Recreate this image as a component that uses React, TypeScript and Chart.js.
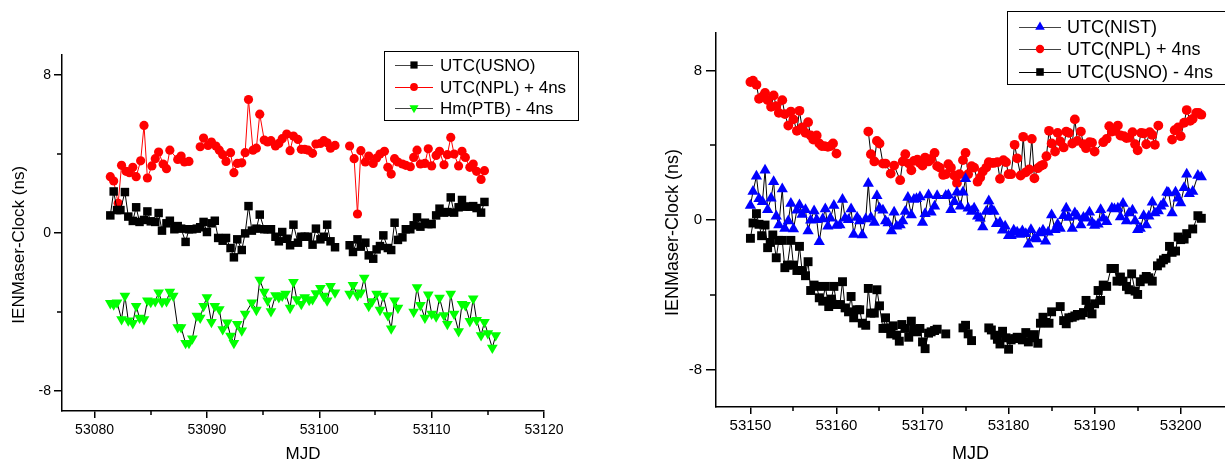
import React, { useEffect, useRef } from 'react';
import { Chart, registerables } from 'chart.js';
import { drawPoint } from 'chart.js/helpers';

Chart.register(...registerables);

// ---------------- Left panel ----------------
const leftXTicks = [53080, 53090, 53100, 53110, 53120];
const leftXMinorTicks = [53085, 53095, 53105, 53115];
const leftYTicks = [-8, 0, 8];
const leftYMinorTicks = [-4, 4];

const leftUsnoMjd = [53081.4, 53081.7, 53082.0, 53082.3, 53082.7, 53083.0, 53083.4, 53083.7, 53084.0, 53084.4, 53084.7, 53085.0, 53085.4, 53085.7, 53086.0, 53086.4, 53086.7, 53087.1, 53087.4, 53087.7, 53088.1, 53088.4, 53088.7, 53089.1, 53089.4, 53089.7, 53090.0, 53090.4, 53090.7, 53091.0, 53091.4, 53091.7, 53092.1, 53092.4, 53092.7, 53093.1, 53093.4, 53093.7, 53094.0, 53094.4, 53094.7, 53095.1, 53095.4, 53095.7, 53096.1, 53096.4, 53096.7, 53097.1, 53097.4, 53097.7, 53098.1, 53098.4, 53098.7, 53099.0, 53099.4, 53099.7, 53100.1, 53100.4, 53100.7, 53101.0, 53101.4, 53102.0, 53102.7, 53103.0, 53103.4, 53103.7, 53104.1, 53104.4, 53104.8, 53105.1, 53105.4, 53105.7, 53106.1, 53106.4, 53106.7, 53107.0, 53107.4, 53107.7, 53108.1, 53108.4, 53108.7, 53109.0, 53109.4, 53109.7, 53110.0, 53110.4, 53110.7, 53111.1, 53111.4, 53111.7, 53112.0, 53112.4, 53112.7, 53113.0, 53113.4, 53113.7, 53114.0, 53114.4, 53114.7];
const leftUsnoNs = [0.89, 2.1, 1.16, 1.16, 2.07, 0.83, 0.61, 1.30, 0.56, 0.66, 1.09, 0.59, 0.56, 1.01, 0.12, 0.49, 0.62, 0.19, 0.35, 0.22, -0.45, 0.19, 0.19, 0.22, 0.29, 0.56, 0.05, 0.49, 0.62, -0.25, -0.39, -0.25, -0.76, -1.23, -0.32, -0.86, -0.02, 1.36, 0.12, 0.22, 0.93, 0.19, 0.19, 0.19, -0.19, -0.42, 0.05, -0.29, -0.62, 0.42, -0.49, -0.19, -0.19, -0.19, -0.59, 0.22, -0.32, -0.19, 0.42, -0.42, -0.72, null, -0.62, -0.96, -0.32, -0.69, -0.49, -1.13, -1.30, -0.83, -0.66, -0.12, -0.76, -0.86, 0.52, -0.35, -0.22, 0.19, 0.19, 0.39, 0.79, 0.32, 0.52, 0.45, 0.45, 0.89, 1.23, 1.03, 1.06, 1.80, 1.03, 1.30, 1.67, 1.33, 1.33, 1.36, 1.26, 1.03, 1.57];

const leftNplMjd = [53081.4, 53081.7, 53082.1, 53082.4, 53082.8, 53083.1, 53083.4, 53083.7, 53084.1, 53084.4, 53084.7, 53085.1, 53085.4, 53085.7, 53086.1, 53086.4, 53086.7, 53087.4, 53087.7, 53088.0, 53088.4, 53088.9, 53089.4, 53089.7, 53090.1, 53090.4, 53090.8, 53091.1, 53091.4, 53091.7, 53092.1, 53092.4, 53092.7, 53093.1, 53093.4, 53093.7, 53094.1, 53094.4, 53094.7, 53095.1, 53095.4, 53095.7, 53096.1, 53096.4, 53096.7, 53097.1, 53097.4, 53097.7, 53098.1, 53098.4, 53098.7, 53099.0, 53099.4, 53099.7, 53100.1, 53100.4, 53100.7, 53101.0, 53101.4, 53102.0, 53102.7, 53103.1, 53103.4, 53103.7, 53104.1, 53104.4, 53104.8, 53105.1, 53105.4, 53105.8, 53106.1, 53106.4, 53106.7, 53107.0, 53107.4, 53107.7, 53108.1, 53108.4, 53108.7, 53109.0, 53109.4, 53109.7, 53110.0, 53110.4, 53110.7, 53111.1, 53111.4, 53111.7, 53112.0, 53112.4, 53112.7, 53113.0, 53113.4, 53113.7, 53114.0, 53114.4, 53114.7];
const leftNplNs = [2.85, 2.63, 1.50, 3.42, 3.12, 3.05, 3.32, 2.85, 3.65, 5.44, 2.78, 3.39, 3.76, 4.09, 3.49, 3.25, 4.19, 3.72, 3.89, 3.59, 3.62, null, 4.36, 4.80, 4.43, 4.60, 4.40, 4.19, 3.96, 3.62, 4.06, 3.05, 3.52, 3.55, 4.06, 6.75, 4.19, 4.29, 6.01, 4.70, 4.60, 4.67, 4.40, 4.53, 4.77, 5.00, 4.16, 4.90, 4.73, 4.23, 4.23, 4.19, 4.03, 4.50, 4.53, 4.67, 4.56, 4.29, 4.43, null, 4.40, 3.76, 0.96, 4.16, 3.59, 3.89, 3.52, 3.79, 3.99, 4.13, 3.32, 2.98, 3.76, 3.59, 3.49, 3.42, 3.35, 3.82, 4.19, 3.49, 3.52, 4.26, 3.39, 3.92, 4.13, 3.45, 3.96, 4.83, 3.99, 3.39, 4.13, 3.82, 3.32, 3.49, 3.12, 2.71, 3.15];

const leftPtbMjd = [53081.4, 53081.7, 53082.0, 53082.4, 53082.7, 53083.0, 53083.4, 53083.7, 53084.0, 53084.4, 53084.7, 53085.0, 53085.4, 53085.7, 53086.0, 53086.4, 53086.7, 53087.0, 53087.4, 53087.7, 53088.1, 53088.4, 53088.7, 53089.1, 53089.4, 53089.7, 53090.0, 53090.4, 53090.7, 53091.1, 53091.4, 53091.8, 53092.1, 53092.4, 53092.7, 53093.1, 53093.4, 53094.0, 53094.4, 53094.7, 53095.1, 53095.4, 53095.7, 53096.1, 53096.4, 53096.7, 53097.0, 53097.4, 53097.7, 53098.0, 53098.4, 53098.7, 53099.1, 53099.4, 53099.7, 53100.1, 53100.4, 53100.7, 53101.0, 53101.4, 53102.0, 53102.7, 53103.0, 53103.4, 53103.7, 53104.0, 53104.4, 53104.7, 53105.1, 53105.4, 53105.7, 53106.1, 53106.4, 53106.7, 53107.0, 53107.7, 53108.4, 53108.7, 53109.0, 53109.4, 53109.7, 53110.0, 53110.4, 53110.7, 53111.1, 53111.4, 53111.7, 53112.0, 53112.4, 53112.7, 53113.0, 53113.4, 53113.7, 53114.0, 53114.4, 53114.7, 53115.0, 53115.4, 53115.7];
const leftPtbNs = [-3.55, -3.62, -3.52, -4.36, -3.18, -4.43, -4.56, -3.69, -4.29, -4.36, -3.42, -3.49, -3.45, -3.01, -3.49, -3.45, -2.98, -3.18, -4.77, -4.77, -5.57, -5.57, -5.34, -4.19, -4.29, -3.69, -3.25, -4.50, -3.69, -3.86, -4.87, -4.53, -5.20, -5.57, -4.60, -4.93, -4.09, -3.52, -3.89, -2.37, -2.98, -3.42, -3.96, -3.15, -3.25, -3.18, -3.08, -3.79, -2.48, -3.35, -3.59, -3.25, -3.39, -3.35, -3.05, -2.78, -3.18, -3.42, -2.68, -3.01, null, -3.08, -2.64, -3.15, -3.01, -2.27, -3.69, -3.45, -3.08, -3.89, -3.18, -4.16, -4.83, -3.42, -3.79, null, -3.99, -2.75, -3.65, -4.29, -3.12, -4.09, -4.23, -3.28, -4.16, -4.60, -3.08, -4.09, -4.97, -3.59, -3.65, -4.46, -3.32, -4.40, -5.17, -4.50, -5.07, -5.81, -5.17];

// ---------------- Right panel ----------------
const rightXTicks = [53150, 53160, 53170, 53180, 53190, 53200];
const rightXMinorTicks = [53155, 53165, 53175, 53185, 53195];
const rightYTicks = [-8, 0, 8];
const rightYMinorTicks = [-4, 4];

const rightNistMjd = [53150.0, 53150.3, 53150.7, 53151.0, 53151.4, 53151.7, 53152.0, 53152.4, 53152.7, 53153.0, 53153.3, 53153.7, 53154.0, 53154.4, 53154.7, 53155.0, 53155.4, 53155.7, 53156.0, 53156.4, 53156.7, 53157.0, 53157.4, 53157.7, 53158.0, 53158.4, 53158.7, 53159.0, 53159.3, 53159.7, 53160.0, 53160.4, 53160.7, 53161.0, 53161.4, 53161.7, 53162.0, 53162.4, 53162.7, 53163.0, 53163.4, 53163.7, 53164.0, 53164.4, 53164.7, 53165.0, 53165.4, 53165.7, 53166.0, 53166.4, 53166.7, 53167.0, 53167.4, 53167.7, 53168.0, 53168.3, 53168.7, 53169.0, 53169.3, 53169.7, 53170.0, 53170.3, 53170.7, 53171.0, 53171.4, 53171.7, 53172.7, 53173.0, 53173.3, 53173.7, 53174.0, 53174.4, 53174.7, 53175.0, 53175.3, 53175.7, 53176.0, 53176.4, 53176.7, 53177.0, 53177.4, 53177.7, 53178.0, 53178.3, 53178.6, 53179.0, 53179.3, 53179.6, 53180.0, 53180.3, 53180.6, 53181.0, 53181.3, 53181.6, 53182.0, 53182.3, 53182.6, 53183.0, 53183.3, 53183.6, 53184.0, 53184.3, 53184.6, 53185.0, 53185.4, 53185.7, 53186.0, 53186.4, 53186.7, 53187.0, 53187.4, 53187.7, 53188.0, 53188.4, 53188.7, 53189.0, 53189.4, 53189.7, 53190.0, 53190.4, 53190.7, 53191.0, 53191.4, 53192.0, 53192.3, 53192.7, 53193.0, 53193.3, 53193.7, 53194.0, 53194.4, 53194.7, 53195.0, 53195.3, 53195.7, 53196.0, 53196.3, 53196.7, 53197.0, 53197.4, 53197.7, 53198.0, 53198.4, 53198.6, 53199.0, 53199.4, 53199.7, 53200.0, 53200.4, 53200.7, 53201.0, 53201.4, 53202.0, 53202.4];
const rightNistNs = [0.77, 1.52, 2.34, 1.13, 0.98, 2.66, 0.55, 1.16, 2.05, 0.20, -0.27, 1.66, -0.45, -0.05, 0.88, -0.48, 0.52, 0.80, 0.30, 0.55, -0.59, -0.02, 0.48, 0.02, -1.16, 0.05, 0.59, -0.34, 0.09, 0.77, -0.30, -0.27, 1.09, 0.09, 0.02, 0.59, -0.77, 0.13, -0.05, -0.80, 0.05, 1.95, 0.13, -0.13, 1.30, 0.63, 0.52, -0.05, -0.16, -0.59, 0.41, -0.34, -0.27, -0.05, 0.45, 1.20, 0.27, 1.09, 1.13, 1.23, -0.13, 0.34, 1.34, 0.41, 0.73, 1.30, 1.30, 1.34, 0.55, 0.98, 1.48, 0.73, 1.48, 2.20, 0.63, 0.45, 0.63, 0.20, 0.09, -0.38, 0.45, 1.02, 0.59, 0.45, -0.20, -0.13, -0.55, -0.34, -0.84, -0.84, -0.55, -0.66, -0.77, -0.59, -0.73, -1.30, -0.52, -0.98, -1.02, -0.70, -0.55, -1.13, -0.66, 0.27, -0.52, -0.23, -0.45, 0.23, 0.63, 0.13, -0.45, 0.38, 0.20, -0.27, 0.13, 0.09, 0.41, -0.13, -0.30, -0.23, 0.55, 0.09, -0.09, 0.63, 0.59, 0.63, 0.16, 0.88, -0.05, 0.38, 0.52, -0.05, -0.52, -0.45, 0.23, -0.27, 0.20, 0.95, 0.38, 0.48, 0.73, 0.88, 1.48, 1.45, 0.38, 1.48, 1.16, 0.91, 1.73, 2.45, 1.41, 1.52, 2.38, 2.30];

const rightNplMjd = [53150.0, 53150.3, 53150.7, 53151.0, 53151.4, 53151.7, 53152.0, 53152.4, 53152.7, 53153.0, 53153.3, 53153.7, 53154.0, 53154.4, 53154.7, 53155.0, 53155.4, 53155.7, 53156.0, 53156.4, 53156.7, 53157.0, 53157.3, 53157.7, 53158.0, 53158.3, 53158.6, 53159.0, 53159.3, 53159.6, 53160.0, 53162.0, 53163.7, 53164.0, 53164.4, 53164.7, 53165.0, 53165.4, 53165.7, 53166.3, 53166.7, 53167.4, 53167.7, 53168.0, 53168.4, 53168.7, 53169.0, 53169.4, 53169.7, 53170.0, 53170.3, 53170.7, 53171.0, 53171.4, 53171.7, 53172.0, 53172.4, 53172.7, 53173.0, 53173.3, 53173.7, 53174.0, 53174.3, 53174.7, 53175.0, 53175.3, 53175.7, 53176.0, 53176.4, 53176.7, 53177.0, 53177.4, 53177.7, 53178.0, 53178.3, 53178.7, 53179.0, 53179.4, 53179.7, 53180.0, 53180.3, 53180.7, 53181.0, 53181.4, 53181.7, 53182.0, 53182.4, 53182.7, 53183.0, 53183.4, 53183.7, 53184.0, 53184.4, 53184.7, 53185.0, 53185.4, 53185.7, 53186.0, 53186.4, 53186.7, 53187.0, 53187.4, 53187.7, 53188.0, 53188.4, 53188.7, 53189.0, 53189.4, 53189.7, 53190.0, 53191.0, 53191.4, 53191.7, 53192.0, 53192.4, 53192.7, 53193.0, 53193.4, 53193.7, 53194.0, 53194.4, 53194.7, 53195.0, 53195.4, 53195.7, 53196.0, 53196.4, 53196.7, 53197.0, 53197.4, 53198.2, 53199.0, 53199.3, 53199.7, 53200.0, 53200.4, 53200.7, 53201.1, 53201.4, 53201.8, 53202.1, 53202.4];
const rightNplNs = [7.38, 7.45, 7.23, 6.48, 6.59, 6.80, 6.41, 6.05, 6.66, 6.09, 5.73, 6.41, 5.66, 5.05, 5.80, 5.38, 4.77, 5.84, 4.95, 4.66, 5.23, 4.52, 4.30, 4.52, 4.09, 3.95, 3.95, 3.91, 3.95, 4.09, 3.55, null, 4.73, 3.52, 3.13, 4.23, 4.09, 3.02, 3.02, 2.48, 2.91, 2.13, 3.13, 3.52, 3.02, 2.66, 3.16, 3.23, 3.05, 2.91, 3.34, 3.13, 3.27, 3.59, 2.88, 2.80, 2.41, 2.45, 2.98, 2.80, 2.38, 1.98, 2.45, 3.20, 3.59, 2.45, 2.88, 2.80, 2.05, 2.27, 2.59, 2.80, 3.09, 3.05, 3.05, 3.09, 2.20, 3.20, 3.09, 2.45, 2.45, 4.02, 3.30, 2.38, 4.45, 2.55, 2.70, 4.34, 2.23, 2.77, 2.88, 2.95, 3.41, 4.77, 4.09, 3.66, 4.66, 4.20, 3.88, 4.73, 4.66, 4.09, 5.38, 4.23, 4.73, 4.05, 3.84, 4.16, 4.13, 3.66, 4.16, 4.34, 5.02, 4.73, 4.77, 5.05, 4.52, 4.48, 4.38, 4.41, 4.70, 4.05, 3.73, 4.66, 4.63, 4.05, 4.70, 4.55, 4.02, 5.05, null, 4.30, 4.80, 4.95, 4.48, 5.20, 5.88, 5.30, 5.41, 5.73, 5.73, 5.63];

const rightUsnoMjd = [53150.0, 53150.3, 53150.7, 53151.0, 53151.3, 53151.7, 53152.0, 53152.3, 53152.6, 53153.0, 53153.3, 53153.7, 53154.0, 53154.3, 53154.7, 53155.0, 53155.4, 53155.7, 53156.0, 53156.4, 53156.7, 53157.0, 53157.4, 53157.7, 53158.0, 53158.4, 53158.7, 53159.1, 53159.4, 53159.7, 53160.0, 53160.4, 53160.7, 53161.0, 53161.4, 53161.7, 53162.0, 53162.4, 53162.7, 53163.0, 53163.4, 53163.7, 53164.0, 53164.4, 53164.7, 53165.0, 53165.4, 53165.7, 53166.0, 53166.3, 53166.6, 53167.0, 53167.3, 53167.6, 53168.0, 53168.4, 53168.7, 53169.0, 53169.4, 53169.7, 53170.0, 53170.3, 53170.7, 53171.0, 53171.4, 53171.7, 53172.2, 53172.7, 53173.7, 53174.7, 53175.0, 53175.3, 53175.7, 53176.7, 53177.7, 53178.0, 53178.4, 53178.7, 53179.0, 53179.3, 53179.7, 53180.0, 53180.3, 53180.7, 53181.0, 53181.3, 53181.6, 53182.0, 53182.3, 53182.7, 53183.0, 53183.4, 53183.7, 53184.0, 53184.3, 53184.7, 53185.0, 53186.0, 53186.4, 53186.7, 53187.0, 53187.4, 53187.7, 53188.0, 53188.4, 53188.7, 53189.0, 53189.4, 53189.7, 53190.0, 53190.4, 53190.7, 53191.0, 53191.4, 53191.9, 53192.3, 53192.6, 53193.0, 53193.3, 53193.7, 53194.0, 53194.3, 53194.7, 53195.0, 53195.3, 53195.7, 53196.0, 53196.3, 53196.7, 53197.3, 53197.7, 53198.0, 53198.3, 53198.7, 53199.0, 53199.4, 53199.7, 53200.0, 53200.4, 53200.7, 53201.4, 53202.0, 53202.4];
const rightUsnoNs = [-0.98, -0.16, 0.34, -0.23, -0.84, -0.27, -1.48, -1.20, -0.80, -2.02, -1.09, -1.09, -2.55, -2.41, -1.09, -2.41, -2.70, -1.41, -2.70, -2.98, -2.23, -3.77, -3.48, -3.55, -4.16, -4.34, -3.55, -4.63, -4.23, -3.55, -4.52, -4.52, -3.30, -4.70, -4.91, -4.09, -5.23, -4.80, -4.80, -5.52, -5.63, -3.66, -4.98, -4.98, -3.73, -4.59, -5.80, -5.23, -5.77, -6.09, -5.66, -6.16, -6.48, -5.59, -5.80, -6.27, -5.41, -5.84, -5.98, -5.80, -6.52, -6.88, -6.05, -5.98, -5.91, -5.84, null, -6.09, null, -5.77, -5.63, -6.09, -6.45, null, -5.77, -5.88, -6.16, -6.38, -6.63, -5.95, -6.30, -6.91, -6.41, -6.34, -6.27, -6.30, -6.41, -6.02, -6.52, -6.30, -6.13, -6.59, -5.52, -5.20, -5.48, -5.52, -4.91, -4.63, -5.38, -5.55, -5.23, -5.20, -5.13, -5.05, -5.09, -4.95, -4.30, -4.66, -5.02, -4.48, -3.77, -4.30, -3.48, -3.55, -2.59, -2.59, -3.27, -3.05, -3.27, -3.55, -3.73, -2.88, -3.80, -3.98, -3.30, -3.16, -3.02, -3.09, -3.27, -2.45, -2.30, -2.13, -2.05, -1.41, -1.73, -1.66, -0.91, -1.05, -1.02, -0.73, -0.48, 0.23, 0.09];

// ---------------- helpers ----------------
const FONT = "'Liberation Sans', Arial, sans-serif";

const toPoints = (xs: number[], ys: (number | null)[]) => xs.map((x, i) => ({ x, y: ys[i] }));

type LegendCfg = {
  box: [number, number, number, number];
  rows: number[];
  lineX0: number;
  lineX1: number;
  markerX: number;
  textX: number;
  fontSize: number;
  lineColors: string[];
};

function makeDecorPlugin(legend: LegendCfg, xMinor: number[], yMinor: number[], minorX: number, minorY: number) {
  return {
    id: 'decor',
    afterDraw(chart: any) {
      const ctx = chart.ctx as CanvasRenderingContext2D;
      const xs = chart.scales.x;
      const ys = chart.scales.y;
      ctx.save();
      // minor tick marks
      ctx.strokeStyle = '#000';
      ctx.lineWidth = 1.5;
      ctx.beginPath();
      xMinor.forEach((v) => {
        const px = Math.round(xs.getPixelForValue(v));
        ctx.moveTo(px, xs.top);
        ctx.lineTo(px, xs.top + minorX);
      });
      yMinor.forEach((v) => {
        const py = Math.round(ys.getPixelForValue(v));
        ctx.moveTo(ys.right - minorY, py);
        ctx.lineTo(ys.right, py);
      });
      ctx.stroke();

      // legend
      const [bx, by, bw, bh] = legend.box;
      ctx.fillStyle = '#fff';
      ctx.fillRect(bx, by, bw, bh);
      ctx.strokeStyle = '#000';
      ctx.lineWidth = 1;
      ctx.strokeRect(bx + 0.5, by + 0.5, bw, bh);
      ctx.font = `${legend.fontSize}px ${FONT}`;
      ctx.textBaseline = 'middle';
      ctx.textAlign = 'left';
      chart.data.datasets.forEach((ds: any, i: number) => {
        const yy = legend.rows[i];
        ctx.strokeStyle = legend.lineColors[i];
        ctx.lineWidth = 1;
        ctx.beginPath();
        ctx.moveTo(legend.lineX0, yy + 0.5);
        ctx.lineTo(legend.lineX1, yy + 0.5);
        ctx.stroke();
        ctx.fillStyle = ds.pointBackgroundColor;
        drawPoint(ctx, { pointStyle: ds.pointStyle, rotation: ds.pointRotation || 0, radius: ds.pointRadius * 0.85, borderWidth: 0 } as any, legend.markerX, yy);
        ctx.fillStyle = '#000';
        ctx.fillText(ds.label, legend.textX, yy + 1);
      });
      ctx.restore();
    },
  };
}

function makeConfig(opts: {
  datasets: any[];
  xMin: number; xMax: number; yMin: number; yMax: number;
  xTicks: number[]; yTicks: number[];
  padding: any; yWidth: number; xHeight: number;
  tickFont: number; titleFont: number;
  xTickLen: number; yTickLen: number; yTickPad: number; xTickPad: number;
  yTitlePadTop: number;
  plugin: any;
}) {
  return {
    type: 'line' as const,
    data: { datasets: opts.datasets },
    options: {
      animation: false as const,
      responsive: false,
      events: [],
      parsing: false as const,
      layout: { padding: opts.padding, autoPadding: false },
      plugins: { legend: { display: false }, tooltip: { enabled: false }, title: { display: false } },
      scales: {
        x: {
          type: 'linear' as const,
          min: opts.xMin,
          max: opts.xMax,
          afterBuildTicks: (s: any) => { s.ticks = opts.xTicks.map((v) => ({ value: v })); },
          afterFit: (s: any) => { s.height = opts.xHeight; s.paddingLeft = 0; s.paddingRight = 0; },
          ticks: { callback: (v: any) => String(v), color: '#000', font: { family: FONT, size: opts.tickFont }, padding: opts.xTickPad, maxRotation: 0, autoSkip: false },
          grid: { display: true, drawOnChartArea: false, drawTicks: true, tickLength: opts.xTickLen, color: '#000', lineWidth: 1.5 },
          border: { display: true, color: '#000', width: 1.5 },
          title: { display: true, text: 'MJD', color: '#000', font: { family: FONT, size: opts.titleFont }, padding: { top: 0, bottom: 0 } },
        },
        y: {
          type: 'linear' as const,
          min: opts.yMin,
          max: opts.yMax,
          afterBuildTicks: (s: any) => { s.ticks = opts.yTicks.map((v) => ({ value: v })); },
          afterFit: (s: any) => { s.width = opts.yWidth; s.paddingTop = 0; s.paddingBottom = 0; },
          ticks: { callback: (v: any) => String(v), color: '#000', font: { family: FONT, size: opts.tickFont }, padding: opts.yTickPad },
          grid: { display: true, drawOnChartArea: false, drawTicks: true, tickLength: opts.yTickLen, color: '#000', lineWidth: 1.5 },
          border: { display: true, color: '#000', width: 1.5 },
          title: { display: true, text: 'IENMaser-Clock (ns)     ', color: '#000', font: { family: FONT, size: opts.titleFont }, padding: { top: opts.yTitlePadTop, bottom: 0 } },
        },
      },
    },
    plugins: [opts.plugin],
  };
}

function series(label: string, xs: number[], ys: (number | null)[], style: string, color: string, lineColor: string, radius: number, rotation = 0) {
  return {
    label,
    data: toPoints(xs, ys),
    showLine: true,
    spanGaps: false,
    borderColor: lineColor,
    borderWidth: 1,
    tension: 0,
    pointStyle: style,
    pointRotation: rotation,
    pointRadius: radius,
    pointBackgroundColor: color,
    pointBorderWidth: 0,
    pointHoverRadius: radius,
  };
}

export default function App() {
  const leftRef = useRef<HTMLCanvasElement>(null);
  const rightRef = useRef<HTMLCanvasElement>(null);

  useEffect(() => {
    document.body.style.margin = '0';
    const leftDatasets = [
      series('UTC(USNO)', leftUsnoMjd, leftUsnoNs, 'rect', '#000000', '#000000', 6.0),
      series('UTC(NPL) + 4ns', leftNplMjd, leftNplNs, 'circle', '#ff0000', '#ff0000', 4.6),
      series('Hm(PTB) - 4ns', leftPtbMjd, leftPtbNs, 'triangle', '#00ff00', '#000000', 6.2, 180),
    ];
    const rightDatasets = [
      series('UTC(NIST)', rightNistMjd, rightNistNs, 'triangle', '#0000ff', '#000000', 6.5),
      series('UTC(NPL) + 4ns', rightNplMjd, rightNplNs, 'circle', '#ff0000', '#000000', 4.9),
      series('UTC(USNO) - 4ns', rightUsnoMjd, rightUsnoNs, 'rect', '#000000', '#000000', 6.3),
    ];

    const leftPlugin = makeDecorPlugin(
      { box: [384, 51, 194, 69], rows: [65, 87, 108], lineX0: 395, lineX1: 433, markerX: 414, textX: 440, fontSize: 17, lineColors: ['#444', '#ff0000', '#444'] },
      leftXMinorTicks, leftYMinorTicks, 4, 5,
    );
    const rightPlugin = makeDecorPlugin(
      { box: [1007 - 612, 11, 240, 73], rows: [27, 49, 72], lineX0: 1019 - 612, lineX1: 1061 - 612, markerX: 1040 - 612, textX: 1067 - 612, fontSize: 18, lineColors: ['#444', '#444', '#000'] },
      rightXMinorTicks, rightYMinorTicks, 4, 6,
    );

    const left = new Chart(leftRef.current!, makeConfig({
      datasets: leftDatasets,
      xMin: 53077.1, xMax: 53120, yMin: -9, yMax: 9,
      xTicks: leftXTicks, yTicks: leftYTicks,
      padding: { left: 0, top: 55, right: 68, bottom: 0 },
      yWidth: 62, xHeight: 54,
      tickFont: 14, titleFont: 17,
      xTickLen: 7, yTickLen: 8, yTickPad: 3, xTickPad: 4,
      yTitlePadTop: 9,
      plugin: leftPlugin,
    }) as any);

    const right = new Chart(rightRef.current!, makeConfig({
      datasets: rightDatasets,
      xMin: 53146.0, xMax: 53205.15, yMin: -10, yMax: 10,
      xTicks: rightXTicks, yTicks: rightYTicks,
      padding: { left: 0, top: 33, right: 0, bottom: 0 },
      yWidth: 104, xHeight: 58,
      tickFont: 15, titleFont: 18,
      xTickLen: 7, yTickLen: 10, yTickPad: 4, xTickPad: 3,
      yTitlePadTop: 50,
      plugin: rightPlugin,
    }) as any);

    return () => {
      left.destroy();
      right.destroy();
    };
  }, []);

  return (
    <div style={{ position: 'absolute', left: 0, top: 0, width: 1225, height: 465, background: '#fff', overflow: 'hidden' }}>
      <canvas ref={leftRef} width={612} height={465} style={{ position: 'absolute', left: 0, top: 0, width: 612, height: 465 }} />
      <canvas ref={rightRef} width={613} height={465} style={{ position: 'absolute', left: 612, top: 0, width: 613, height: 465 }} />
    </div>
  );
}
